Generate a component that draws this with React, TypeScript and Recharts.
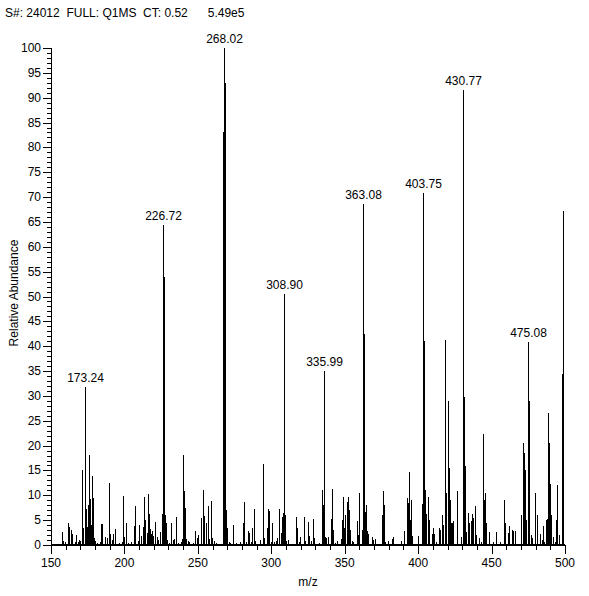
import React from 'react';
import { ScatterChart, Scatter, XAxis, YAxis } from 'recharts';

// peak positions (m/z) and relative abundance (%)
const mzValues = [
  150.2, 157.7, 158.3, 160.2, 161.8, 162.5, 163.8, 164.8, 166.6, 167.5,
  168.4, 169.3, 170.4, 171.6, 172.3, 173.24, 173.9, 174.6, 175.4, 176.1,
  176.6, 177.0, 177.6, 178.1, 178.8, 179.5, 180.6, 181.5, 183.6, 184.5,
  185.2, 186.8, 188.8, 189.7, 190.6, 192.0, 192.6, 193.7, 194.2, 196.7,
  198.8, 199.5, 200.2, 201.5, 203.0, 204.5, 206.7, 207.6, 209.3, 210.6,
  211.4, 212.7, 214.0, 214.6, 215.6, 216.3, 216.8, 217.6, 218.3, 219.1,
  220.1, 221.2, 222.4, 223.3, 224.3, 225.6, 226.1, 226.72, 227.0, 227.5,
  228.0, 228.6, 229.6, 230.6, 232.2, 233.1, 234.3, 235.6, 236.6, 238.6,
  239.6, 240.1, 240.8, 241.5, 242.3, 243.6, 244.6, 246.7, 248.7, 249.6,
  250.7, 252.6, 253.7, 254.4, 255.6, 257.3, 258.1, 259.3, 260.1, 261.3,
  263.0, 267.5, 268.02, 268.5, 269.0, 269.6, 270.3, 271.6, 272.4, 274.1,
  276.5, 278.9, 281.0, 281.6, 283.2, 284.8, 285.4, 286.6, 287.3, 288.4,
  289.3, 292.7, 294.6, 295.5, 297.6, 298.4, 299.1, 300.2, 301.0, 302.0,
  303.6, 304.5, 305.3, 305.9, 306.7, 307.8, 308.4, 308.9, 309.2, 309.6,
  310.5, 311.6, 316.9, 317.3, 318.1, 319.3, 319.8, 322.5, 323.3, 325.2,
  325.7, 326.3, 327.5, 328.6, 329.3, 332.5, 334.8, 335.5, 335.99, 336.4,
  336.9, 337.7, 338.9, 340.7, 341.6, 342.3, 344.0, 345.1, 347.8, 348.7,
  349.1, 349.8, 350.5, 351.8, 352.5, 353.2, 354.0, 355.4, 356.3, 358.8,
  359.6, 360.4, 361.9, 362.6, 363.08, 363.4, 363.9, 364.5, 365.2, 366.2,
  368.8, 369.9, 371.0, 375.6, 376.3, 377.0, 377.8, 380.0, 382.2, 383.5,
  388.6, 390.4, 392.6, 393.3, 394.0, 394.6, 395.6, 396.3, 400.3, 402.8,
  403.75, 404.0, 404.7, 405.4, 406.9, 407.6, 408.0, 409.6, 410.3, 411.0,
  412.6, 414.4, 415.2, 416.4, 417.1, 418.3, 418.8, 419.4, 420.5, 421.2,
  421.8, 422.7, 423.4, 424.2, 426.7, 429.6, 430.77, 431.0, 431.4, 432.1,
  432.8, 434.2, 434.9, 436.3, 436.9, 437.9, 439.2, 439.9, 442.1, 443.4,
  444.4, 445.1, 445.9, 446.6, 448.5, 451.3, 453.5, 455.8, 458.7, 459.4,
  461.4, 462.1, 464.2, 464.9, 466.0, 470.6, 471.6, 472.3, 473.0, 473.6,
  475.08, 475.5, 476.1, 477.2, 478.2, 480.2, 481.0, 481.6, 483.0, 484.4,
  485.1, 486.2, 487.3, 488.1, 488.9, 489.3, 490.3, 491.0, 492.4, 493.6,
  494.2, 494.8, 496.2, 498.4, 499.0, 499.3,
];

const abundance = [
  2.2, 2.6, 0.8, 0.6, 4.5, 3.6, 3.1, 2.3, 0.6, 2.0,
  0.7, 1.0, 0.8, 15.1, 3.5, 31.8, 7.2, 3.7, 8.0, 18.1,
  7.5, 9.2, 4.0, 13.9, 9.4, 1.5, 0.8, 0.5, 0.7, 4.2,
  4.3, 1.7, 1.5, 12.4, 2.2, 1.0, 2.3, 3.3, 0.8, 0.5,
  0.6, 9.9, 1.6, 4.4, 0.5, 0.6, 3.9, 7.9, 0.8, 4.1,
  1.8, 3.7, 9.7, 5.0, 2.5, 10.3, 6.3, 3.3, 2.3, 2.9,
  1.8, 4.7, 1.7, 1.0, 2.6, 5.6, 6.2, 64.4, 54.0, 9.8,
  6.0, 4.5, 1.0, 0.5, 4.4, 1.0, 1.3, 5.7, 0.5, 0.6,
  1.2, 18.1, 10.8, 7.5, 1.2, 0.8, 0.6, 0.5, 2.9, 1.5,
  2.0, 5.4, 11.0, 5.9, 4.4, 7.9, 1.2, 8.9, 1.5, 0.8,
  0.5, 83.0, 100, 93.0, 9.2, 7.0, 3.5, 0.6, 0.5, 4.0,
  0.5, 0.6, 4.4, 8.6, 0.6, 2.8, 2.4, 0.6, 3.5, 7.2,
  0.8, 1.0, 16.2, 1.5, 3.5, 7.2, 6.8, 0.7, 4.4, 0.7,
  0.9, 1.5, 7.2, 4.3, 2.4, 5.6, 6.5, 50.5, 45.0, 6.0,
  0.9, 1.0, 2.6, 5.6, 3.5, 0.7, 1.7, 5.6, 0.8, 4.7,
  0.8, 1.9, 0.8, 5.2, 1.4, 0.4, 11.0, 8.0, 35.0, 24.3,
  1.7, 1.5, 1.7, 5.2, 11.3, 3.0, 0.5, 0.8, 1.3, 5.0,
  9.7, 3.5, 6.0, 8.7, 9.7, 7.0, 3.0, 0.8, 0.6, 4.8,
  2.0, 10.5, 3.0, 5.0, 68.6, 42.5, 6.6, 8.0, 2.8, 2.2,
  1.7, 1.0, 1.2, 6.0, 10.9, 8.0, 0.6, 0.8, 1.2, 1.7,
  0.8, 2.8, 9.4, 8.4, 14.7, 5.0, 9.0, 1.8, 1.8, 8.3,
  70.8, 41.0, 11.0, 6.3, 9.7, 5.0, 1.0, 2.2, 3.5, 2.3,
  0.6, 3.5, 3.0, 6.0, 4.0, 19.6, 41.2, 10.5, 29.0, 15.4,
  9.0, 4.4, 4.4, 4.9, 10.8, 1.7, 91.5, 51.6, 29.8, 15.8,
  2.6, 6.4, 4.5, 4.8, 6.2, 5.4, 7.8, 2.1, 1.4, 0.6,
  22.3, 9.0, 10.5, 4.5, 2.6, 0.6, 2.7, 0.6, 9.0, 4.4,
  2.5, 3.8, 3.1, 2.8, 2.9, 6.0, 20.6, 18.5, 15.0, 5.0,
  40.8, 29.0, 3.2, 2.0, 1.5, 10.5, 6.0, 4.5, 2.2, 1.0,
  3.9, 0.6, 5.0, 5.3, 26.6, 20.5, 12.3, 6.0, 1.6, 0.6,
  5.0, 12.1, 2.0, 34.5, 67.2, 34.0,
];

const peakLabels = ['173.24', '226.72', '268.02', '308.90', '335.99', '363.08', '403.75', '430.77', '475.08'];

const xTicks = Array.from({ length: 36 }, (_, i) => 150 + i * 10);
const yTicks = Array.from({ length: 101 }, (_, i) => i);

const W = 589;
const H = 596;
const X_AXIS_H = 51;
const BASE = H - X_AXIS_H; // y pixel of the 0 line
const FONT = '"Liberation Sans", Arial, sans-serif';

const data = mzValues.map((mz, i) => {
  const txt = mz.toFixed(2);
  return { mz, ab: abundance[i], label: peakLabels.includes(txt) ? txt : '' };
});

const Stick = (props: any) => {
  const { cx, cy, payload } = props;
  const x = Math.floor(cx) + 0.5;
  return (
    <g>
      <line x1={x} x2={x} y1={cy} y2={BASE} stroke="#000" strokeWidth={1} shapeRendering="crispEdges" />
      {payload.label && (
        <text x={x} y={cy - 5} textAnchor="middle" fontSize={12} fontFamily={FONT} fill="#000">
          {payload.label}
        </text>
      )}
    </g>
  );
};

const YTick = (props: any) => {
  const { x, y, payload } = props;
  const v = payload.value;
  const major = v % 5 === 0;
  const yy = Math.round(y) + 0.5;
  return (
    <g>
      <line x1={x} x2={x - (major ? 8 : 4)} y1={yy} y2={yy} stroke="#000" shapeRendering="crispEdges" />
      {major && (
        <text x={x - 10} y={y + 4} textAnchor="end" fontSize={12} fontFamily={FONT} fill="#000">
          {v}
        </text>
      )}
    </g>
  );
};

const XTick = (props: any) => {
  const { x, y, payload } = props;
  const v = payload.value;
  const major = v % 50 === 0;
  const xx = Math.round(x) + 0.5;
  return (
    <g>
      <line x1={xx} x2={xx} y1={y} y2={y + (major ? 9 : 5)} stroke="#000" shapeRendering="crispEdges" />
      {major && (
        <text x={x} y={y + 22} textAnchor="middle" fontSize={12} fontFamily={FONT} fill="#000">
          {v}
        </text>
      )}
    </g>
  );
};

export default function App() {
  return (
    <div style={{ position: 'absolute', left: 0, top: 0, width: W, height: H, background: '#fff' }}>
      <svg width={W} height={30} style={{ position: 'absolute', left: 0, top: 0 }}>
        <text x={5} y={17} fontSize={12} fontFamily={FONT} fill="#000" style={{ whiteSpace: 'pre' }}>
          {'S#: 24012  FULL: Q1MS  CT: 0.52      5.49e5'}
        </text>
      </svg>
      <ScatterChart width={W} height={H} margin={{ top: 48, right: 24, bottom: 0, left: 0 }}>
        <XAxis
          type="number"
          dataKey="mz"
          domain={[150, 500]}
          ticks={xTicks}
          interval={0}
          tickSize={0}
          tickMargin={0}
          tickLine={false}
          tick={<XTick />}
          height={X_AXIS_H}
          axisLine={{ stroke: '#000', strokeWidth: 2 }}
          label={{
            content: () => (
              <text x={308} y={586} textAnchor="middle" fontSize={12} fontFamily={FONT} fill="#000">
                m/z
              </text>
            ),
          }}
        />
        <YAxis
          type="number"
          dataKey="ab"
          domain={[0, 100]}
          ticks={yTicks}
          interval={0}
          tickSize={0}
          tickMargin={0}
          tickLine={false}
          tick={<YTick />}
          width={51}
          axisLine={{ stroke: '#000', shapeRendering: 'crispEdges' }}
          label={{
            content: () => (
              <text transform="translate(18,293) rotate(-90)" textAnchor="middle" fontSize={12} fontFamily={FONT} fill="#000">
                Relative Abundance
              </text>
            ),
          }}
        />
        <Scatter data={data} shape={<Stick />} isAnimationActive={false} />
      </ScatterChart>
    </div>
  );
}
